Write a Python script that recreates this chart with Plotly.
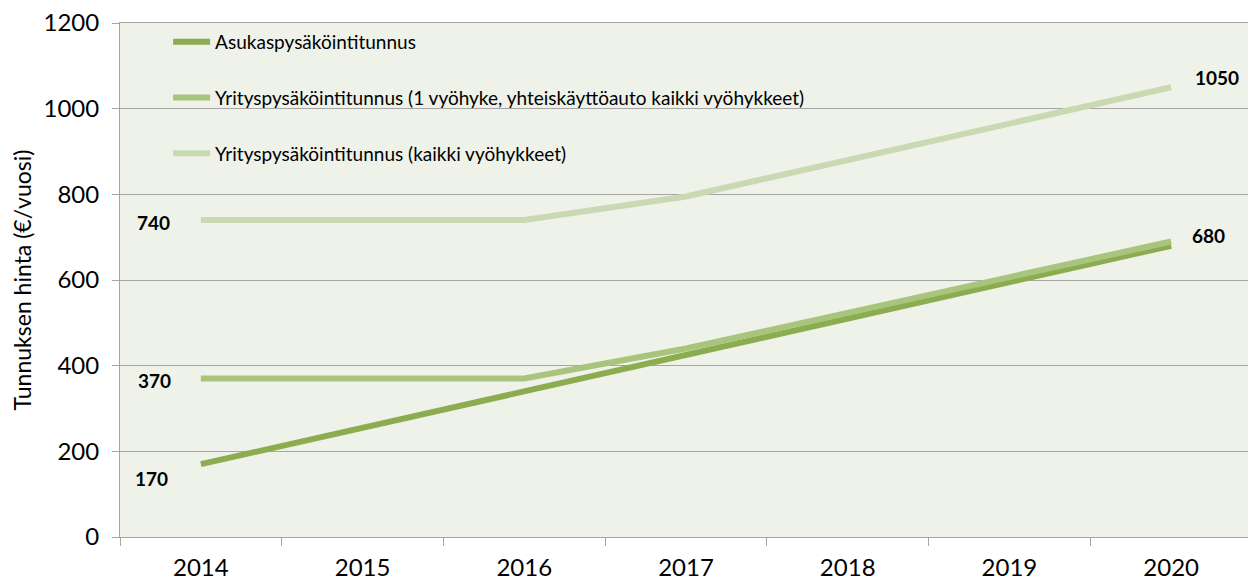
import plotly.graph_objects as go

years = ["2014", "2015", "2016", "2017", "2018", "2019", "2020"]
asukas = [170, 255, 340, 425, 510, 595, 680]
yritys_1 = [370, 370, 370, 440, 523, 607, 690]
yritys_kaikki = [740, 740, 740, 795, 880, 965, 1050]

names = [
    "Asukaspysäköintitunnus",
    "Yrityspysäköintitunnus (1 vyöhyke, yhteiskäyttöauto kaikki vyöhykkeet)",
    "Yrityspysäköintitunnus (kaikki vyöhykkeet)",
]
colors = ["#8BAD50", "#A9C57D", "#C8D9B3"]
series = [asukas, yritys_1, yritys_kaikki]

FONT = "Lato"

fig = go.Figure()
for i, (nm, vals, col) in enumerate(zip(names, series, colors)):
    fig.add_trace(go.Scatter(
        x=years, y=vals, name=nm, mode="lines",
        line=dict(color=col, width=6),
        legendgroup=f"g{i}", hoverinfo="skip",
    ))

# data labels: (series, index, xshift, yshift)
labels = [
    (yritys_kaikki, 0, -47, -2),
    (yritys_1, 0, -46, -2),
    (asukas, 0, -49, -14),
    (yritys_kaikki, 6, 46, 10),
    (asukas, 6, 37, 10),
]
for vals, idx, xs, ys in labels:
    fig.add_annotation(
        x=idx, y=vals[idx], xref="x", yref="y", text=f"<b>{vals[idx]}</b>",
        showarrow=False, xshift=xs, yshift=ys,
        font=dict(family=FONT, size=19, color="#000000"),
    )

fig.update_layout(
    width=1248, height=572,
    margin=dict(l=112, r=4, t=15, b=43),
    paper_bgcolor="#FFFFFF",
    plot_bgcolor="#EEF2E9",
    font=dict(family=FONT, size=20, color="#000000"),
    showlegend=True,
    legend=dict(
        x=0.0425, y=1.0, xanchor="left", yanchor="top",
        bgcolor="rgba(0,0,0,0)", borderwidth=0,
        font=dict(family=FONT, size=19, color="#000000"),
        tracegroupgap=28, traceorder="grouped", itemwidth=37,
    ),
)
fig.update_xaxes(
    type="category", tickson="boundaries", ticks="outside", ticklen=8,
    tickcolor="#A6A6A6", showline=True, linecolor="#A6A6A6", linewidth=1,
    mirror=True,
    showgrid=False, tickfont=dict(family=FONT, size=24), range=[-0.5, 6.5],
    ticklabelstandoff=9, ticklabeloverflow="allow", automargin=False,
)
fig.update_yaxes(
    range=[0, 1200], dtick=200, ticks="outside", ticklen=7, tickcolor="#A6A6A6",
    showline=True, linecolor="#A6A6A6", linewidth=1,
    showgrid=True, gridcolor="#A6A6A6", gridwidth=1, zeroline=False,
    tickfont=dict(family=FONT, size=24), ticklabelstandoff=8,
    ticklabeloverflow="allow", automargin=False,
    title=dict(text="Tunnuksen hinta (€/vuosi)", font=dict(family=FONT, size=23), standoff=8),
)

fig.write_html("out.html")
